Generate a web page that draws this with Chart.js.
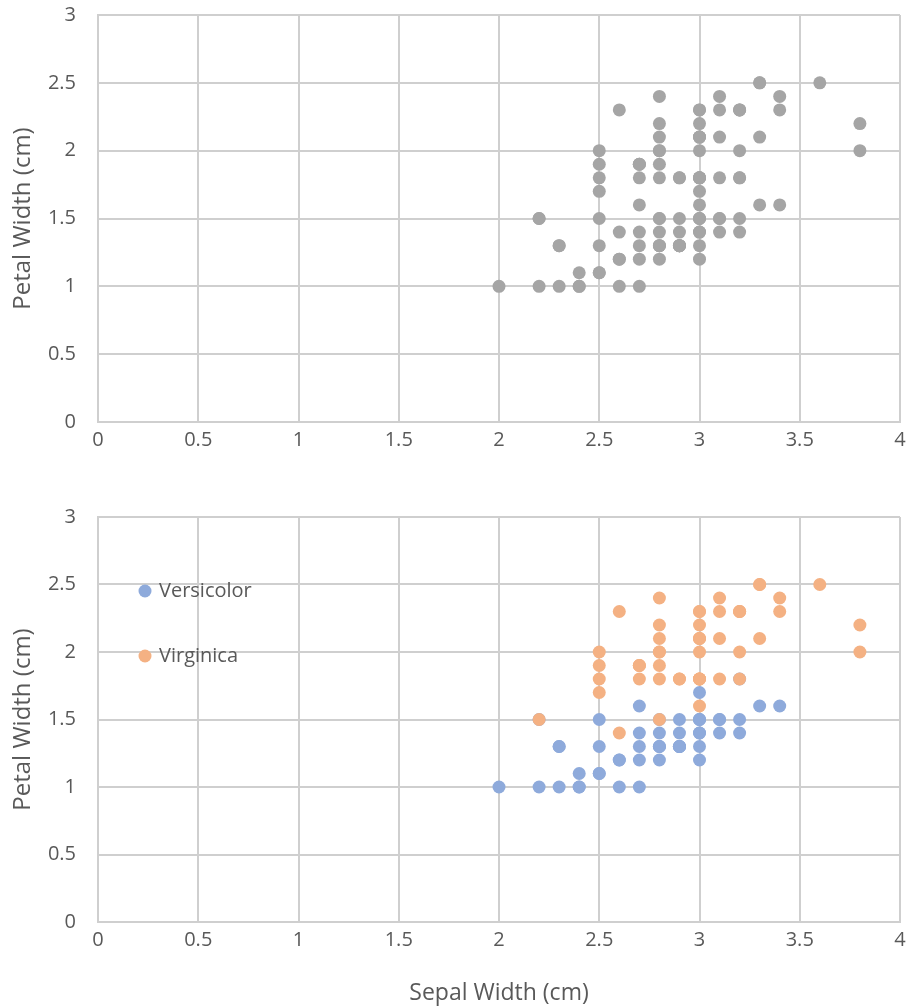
<!DOCTYPE html>
<html>
<head>
<meta charset="utf-8">
<script src="https://cdn.jsdelivr.net/npm/chart.js@4/dist/chart.umd.min.js"></script>
<style>
body{margin:0;background:#fff;}
#arriba{position:absolute;left:0;top:0;}
#abajo{position:absolute;left:0;top:470px;}
</style>
</head>
<body>
<canvas id="arriba" width="907" height="460"></canvas>
<canvas id="abajo" width="907" height="536"></canvas>
<script>
//DATOS (iris: sepal width / petal width)
var versicolorSepal = [3.2,3.2,3.1,2.3,2.8,2.8,3.3,2.4,2.9,2.7,2.0,3.0,2.2,2.9,2.9,3.1,3.0,2.7,2.2,2.5,
                       3.2,2.8,2.5,2.8,2.9,3.0,2.8,3.0,2.9,2.6,2.4,2.4,2.7,2.7,3.0,3.4,3.1,2.3,3.0,2.5,
                       2.6,3.0,2.6,2.3,2.7,3.0,2.9,2.9,2.5,2.8];
var versicolorPetal = [1.4,1.5,1.5,1.3,1.5,1.3,1.6,1.0,1.3,1.4,1.0,1.5,1.0,1.4,1.3,1.4,1.5,1.0,1.5,1.1,
                       1.8,1.3,1.5,1.2,1.3,1.4,1.4,1.7,1.5,1.0,1.1,1.0,1.2,1.6,1.5,1.6,1.5,1.3,1.3,1.3,
                       1.2,1.4,1.2,1.0,1.3,1.2,1.3,1.3,1.1,1.3];
var virginicaSepal = [3.3,2.7,3.0,2.9,3.0,3.0,2.5,2.9,2.5,3.6,3.2,2.7,3.0,2.5,2.8,3.2,3.0,3.8,2.6,2.2,
                      3.2,2.8,2.8,2.7,3.3,3.2,2.8,3.0,2.8,3.0,2.8,3.8,2.8,2.8,2.6,3.0,3.4,3.1,3.0,3.1,
                      3.1,3.1,2.7,3.2,3.3,3.0,2.5,3.0,3.4,3.0];
var virginicaPetal = [2.5,1.9,2.1,1.8,2.2,2.1,1.7,1.8,1.8,2.5,2.0,1.9,2.1,2.0,2.4,2.3,1.8,2.2,2.3,1.5,
                      2.3,2.0,2.0,1.8,2.1,1.8,1.8,1.8,2.1,1.6,1.9,2.0,2.2,1.5,1.4,2.3,2.4,1.8,1.8,2.1,
                      2.4,2.3,1.9,2.3,2.5,2.3,1.9,2.0,2.3,1.8];
var ticksX = [0,0.5,1,1.5,2,2.5,3,3.5,4];
var ticksY = [0,0.5,1,1.5,2,2.5,3];

var gris = '#a5a5a5';
var azul = '#8eaadb';
var naranja = '#f4b183';
var textoColor = '#595959';
var rejilla = '#cfcfcf';

function puntos(xs, ys){
    return xs.map(function(x, i){ return {x: x, y: ys[i]}; });
}

function ejes(conTitulo, altoX){
    return {
        x: {
            type: 'linear', min: ticksX[0], max: ticksX[ticksX.length-1],
            afterBuildTicks: function(s){ s.ticks = ticksX.map(function(v){ return {value: v}; }); },
            grid: {color: rejilla, lineWidth: 2, drawTicks: false},
            border: {color: rejilla, width: 2},
            ticks: {color: textoColor, padding: 6, font: {family: 'Open Sans', size: 20},
                    callback: function(v){ return String(v); }},
            title: {display: conTitulo, text: 'Sepal Width (cm)', color: textoColor,
                    padding: {top: 0, bottom: 1}, font: {family: 'Open Sans', size: 23, lineHeight: 1}},
            afterFit: function(s){ s.height = altoX; s.paddingLeft = 0; s.paddingRight = 0; }
        },
        y: {
            type: 'linear', min: ticksY[0], max: ticksY[ticksY.length-1],
            afterBuildTicks: function(s){ s.ticks = ticksY.map(function(v){ return {value: v}; }); },
            grid: {color: rejilla, lineWidth: 2, drawTicks: false},
            border: {color: rejilla, width: 2},
            ticks: {color: textoColor, padding: 22, font: {family: 'Open Sans', size: 20},
                    callback: function(v){ return String(v); }},
            title: {display: true, text: 'Petal Width (cm)', color: textoColor,
                    padding: {top: 11, bottom: 0}, font: {family: 'Open Sans', size: 24, lineHeight: 1}},
            afterFit: function(s){ s.width = 98; s.paddingTop = 0; s.paddingBottom = 0; }
        }
    };
}

//leyenda dentro del area del grafico
var leyendaDentro = {
    id: 'leyendaDentro',
    afterDatasetsDraw: function(chart){
        var ctx = chart.ctx;
        var area = chart.chartArea;
        var sets = chart.data.datasets.slice().sort(function(a, b){ return b.order - a.order; });
        ctx.save();
        sets.forEach(function(ds, i){
            var y = area.top + 74 + i * 65;
            var x = area.left + 47;
            ctx.beginPath();
            ctx.arc(x, y, 6.5, 0, Math.PI * 2);
            ctx.fillStyle = ds.backgroundColor;
            ctx.fill();
            ctx.fillStyle = textoColor;
            ctx.font = '20px "Open Sans"';
            ctx.textBaseline = 'middle';
            ctx.fillText(ds.label, x + 14, y);
        });
        ctx.restore();
    }
};

new Chart(document.getElementById('arriba').getContext('2d'), {
    type: 'scatter',
    data: {
        datasets: [
            {label: 'Versicolor', data: puntos(versicolorSepal, versicolorPetal), backgroundColor: gris,
             borderWidth: 0, pointRadius: 6.5},
            {label: 'Virginica', data: puntos(virginicaSepal, virginicaPetal), backgroundColor: gris,
             borderWidth: 0, pointRadius: 6.5}
        ]
    },
    options: {
        responsive: false, animation: false,
        layout: {padding: {top: 15, right: 7, left: 0, bottom: 0}},
        plugins: {legend: {display: false}, tooltip: {enabled: false}},
        scales: ejes(false, 38)
    }
});

new Chart(document.getElementById('abajo').getContext('2d'), {
    type: 'scatter',
    data: {
        datasets: [
            {label: 'Versicolor', data: puntos(versicolorSepal, versicolorPetal), backgroundColor: azul,
             borderWidth: 0, pointRadius: 6.5, order: 1},
            {label: 'Virginica', data: puntos(virginicaSepal, virginicaPetal), backgroundColor: naranja,
             borderWidth: 0, pointRadius: 6.5, order: 0}
        ]
    },
    options: {
        responsive: false, animation: false,
        layout: {padding: {top: 47, right: 7, left: 0, bottom: 0}},
        plugins: {legend: {display: false}, tooltip: {enabled: false}},
        scales: ejes(true, 84)
    },
    plugins: [leyendaDentro]
});
</script>
</body>
</html>
